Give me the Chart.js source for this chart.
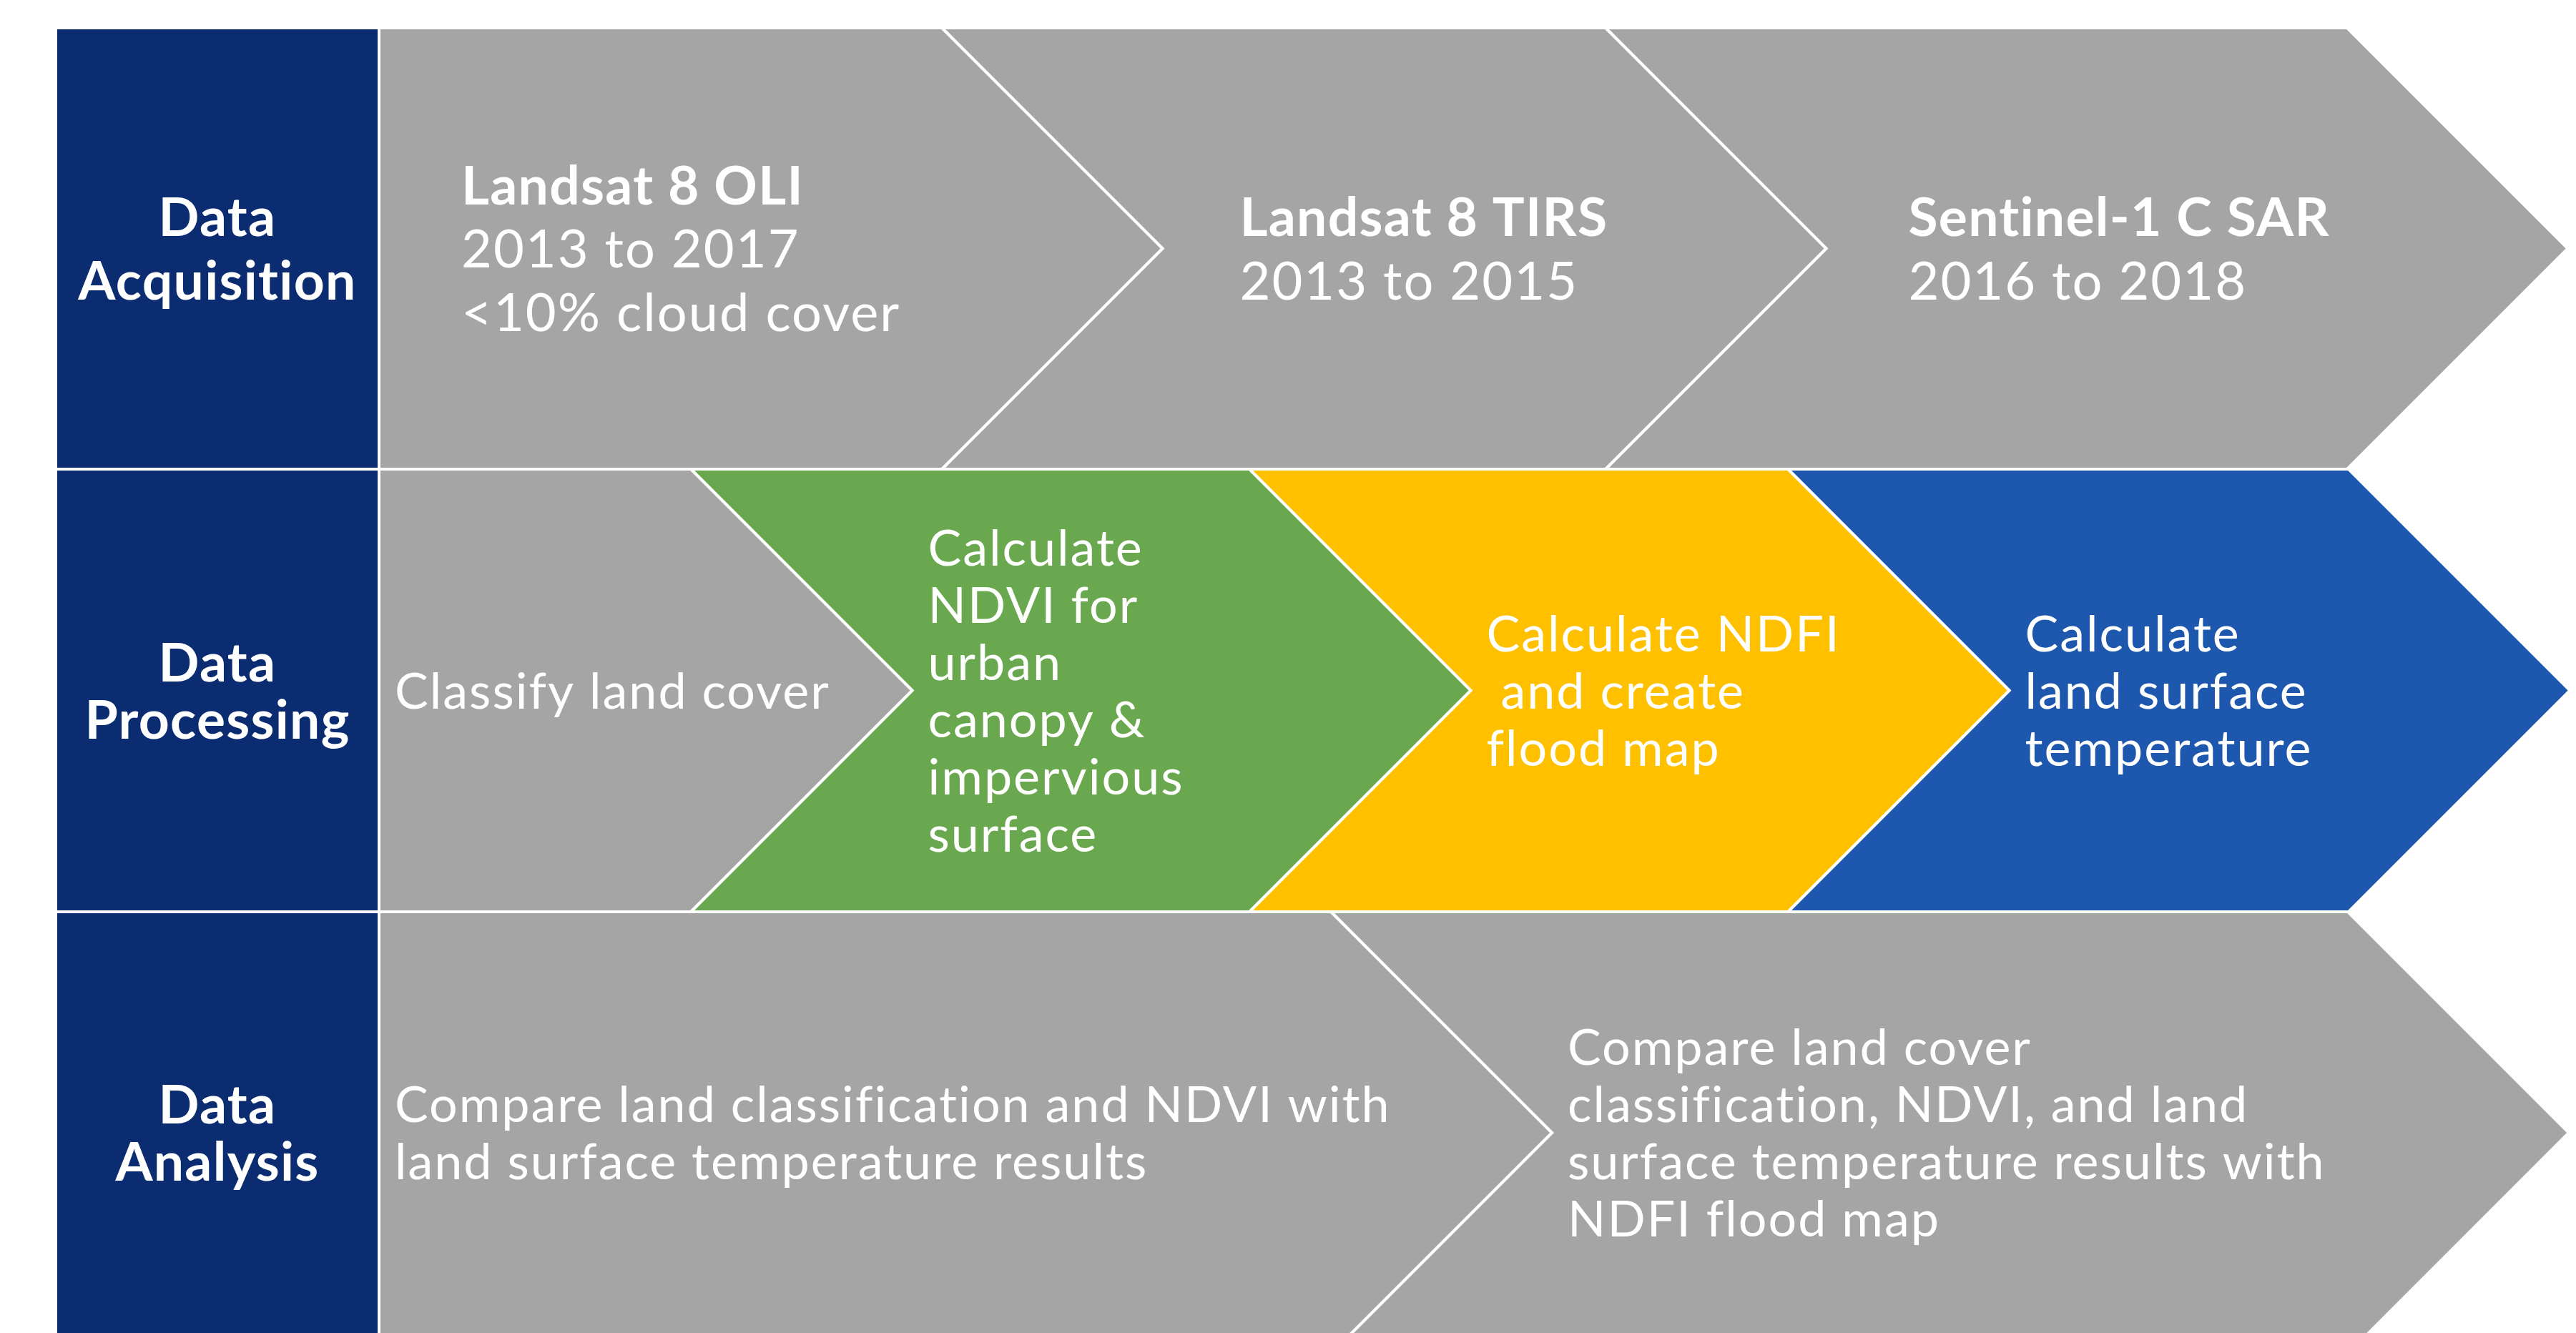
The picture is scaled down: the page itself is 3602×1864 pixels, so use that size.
<!DOCTYPE html>
<html>
<head>
<meta charset="utf-8">
<title>Workflow: acquisition, processing, analysis</title>
<script src="https://cdn.jsdelivr.net/npm/chart.js@4.4.0/dist/chart.umd.min.js"></script>
<style>
  html, body { margin: 0; padding: 0; background: #fff; }
  canvas { display: block; }
</style>
</head>
<body>
<canvas id="flow" width="3602" height="1864"></canvas>
<script>
// stages, one per row
const stageNames = [
  ['Data', 'Acquisition'],
  ['Data', 'Processing'],
  ['Data', 'Analysis']
];
// row edges on the y scale and the label column on the x scale
const rowEdges = [39, 656, 1275, 1893];
const labelColumn = [78, 530];
// where each step starts along x, last value = end of the arrow body
const acquisitionBreaks = [530, 1317, 2245, 3282];
const processingBreaks = [530, 966, 1747, 2500, 3284];
const analysisBreaks = [530, 1861, 3283];

const acquisitionTitles = ['Landsat 8 OLI', 'Landsat 8 TIRS', 'Sentinel-1 C SAR'];
const acquisitionLines = [
  ['2013 to 2017', '<10% cloud cover'],
  ['2013 to 2015'],
  ['2016 to 2018']
];
const processingLines = [
  ['Classify land cover'],
  ['Calculate', 'NDVI for', 'urban', 'canopy &', 'impervious', 'surface'],
  ['Calculate NDFI', ' and create', 'flood map'],
  ['Calculate', 'land surface', 'temperature']
];
const analysisLines = [
  ['Compare land classification and NDVI with', 'land surface temperature results'],
  ['Compare land cover', 'classification, NDVI, and land', 'surface temperature results with', 'NDFI flood map']
];

// styles
const NAVY = '#0B2C70';
const GREY = '#A5A5A5';
const rowColors = [
  [GREY, GREY, GREY],
  [GREY, '#6AA84F', '#FFC000', '#1E58AE'],
  [GREY, GREY]
];
const textInset = [[115, 108, 115], [22, 22, 22, 22], [22, 22]];
const lineHeight = [89, 80, 80];
const bodySize = [74, 70, 70];
const titleSize = 75;
const FONT = 'Lato, "Open Sans", sans-serif';

const rows = [
  { breaks: acquisitionBreaks, blocks: acquisitionLines.map((l, i) => [{ t: acquisitionTitles[i], bold: true }].concat(l.map(t => ({ t })))) },
  { breaks: processingBreaks, blocks: processingLines.map(l => l.map(t => ({ t }))) },
  { breaks: analysisBreaks, blocks: analysisLines.map(l => l.map(t => ({ t }))) }
];

function polygon(pts, color) {
  return {
    data: pts.concat([pts[0]]).map(([x, y]) => ({ x, y })),
    showLine: true,
    fill: 'shape',
    backgroundColor: color,
    borderColor: '#ffffff',
    borderWidth: 4,
    borderJoinStyle: 'miter',
    pointRadius: 0,
    tension: 0
  };
}

const datasets = [];
rows.forEach((row, r) => {
  const top = rowEdges[r], bottom = rowEdges[r + 1];
  const mid = (top + bottom) / 2, d = (bottom - top) / 2;
  // stage label box
  datasets.push(polygon([[labelColumn[0], top], [labelColumn[1], top], [labelColumn[1], bottom], [labelColumn[0], bottom]], NAVY));
  // chevron steps
  for (let i = 0; i < row.breaks.length - 1; i++) {
    const left = row.breaks[i], right = row.breaks[i + 1];
    const pts = [[left, top], [right, top], [right + d, mid], [right, bottom], [left, bottom]];
    if (i > 0) pts.push([left + d, mid]);
    datasets.push(polygon(pts, rowColors[r][i]));
  }
});

function drawBlock(ctx, lines, x, cy, lh, size, align) {
  ctx.textAlign = align;
  ctx.textBaseline = 'alphabetic';
  const n = lines.length;
  lines.forEach((ln, k) => {
    const weight = ln.bold ? 700 : 400;
    const fs = ln.bold ? titleSize : size;
    ctx.font = `${weight} ${fs}px ${FONT}`;
    ctx.letterSpacing = ln.bold ? '1.3px' : '2px';
    const cap = ctx.measureText('H').actualBoundingBoxAscent;
    ctx.fillText(ln.t, x, cy - (n - 1) / 2 * lh + k * lh + cap / 2);
  });
}

const flowText = {
  id: 'flowText',
  afterDatasetsDraw(chart) {
    const { ctx, scales: { x, y } } = chart;
    ctx.save();
    ctx.fillStyle = '#ffffff';
    rows.forEach((row, r) => {
      const top = rowEdges[r], bottom = rowEdges[r + 1];
      const mid = (top + bottom) / 2, d = (bottom - top) / 2;
      const cy = y.getPixelForValue(mid);
      // stage name
      drawBlock(ctx, stageNames[r].map(t => ({ t, bold: true })),
        x.getPixelForValue((labelColumn[0] + labelColumn[1]) / 2), cy, lineHeight[r], titleSize, 'center');
      // step texts
      row.blocks.forEach((block, i) => {
        const startX = row.breaks[i] + (i > 0 ? d : 0) + textInset[r][i];
        drawBlock(ctx, block, x.getPixelForValue(startX), cy, lineHeight[r], bodySize[r], 'left');
      });
    });
    ctx.restore();
  }
};

new Chart(document.getElementById('flow'), {
  type: 'scatter',
  data: { datasets },
  plugins: [flowText],
  options: {
    responsive: false,
    animation: false,
    events: [],
    layout: { padding: 0 },
    scales: {
      x: { type: 'linear', min: 0, max: 3602, display: false },
      y: { type: 'linear', min: 0, max: 1864, reverse: true, display: false }
    },
    plugins: {
      legend: { display: false },
      tooltip: { enabled: false }
    }
  }
});
</script>
</body>
</html>
